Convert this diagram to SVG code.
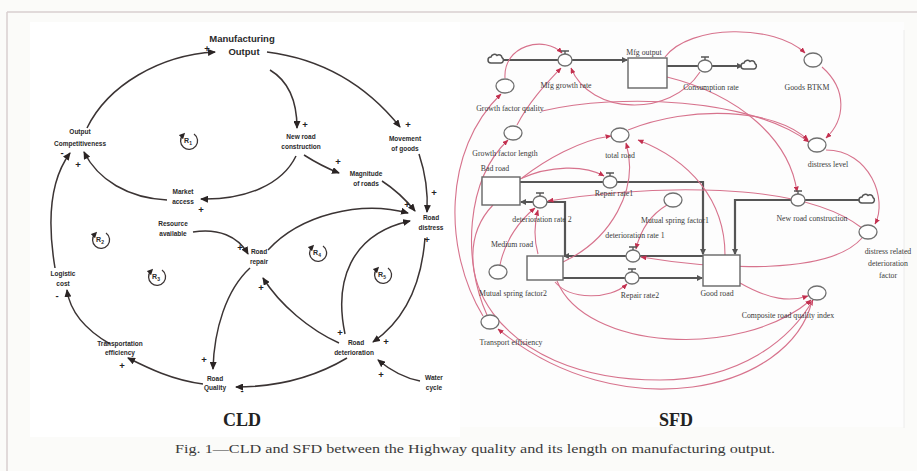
<svg xmlns="http://www.w3.org/2000/svg" width="917" height="471" viewBox="0 0 917 471">
<defs>
<style>
.cl{fill:none;stroke:#3b3434;stroke-width:1.5}
.lb{font-family:"Liberation Sans",Arial,sans-serif;font-weight:bold;font-size:6.5px;fill:#2a2a2a;text-anchor:middle}
.sg{font-family:"Liberation Sans",Arial,sans-serif;font-weight:bold;font-size:9.5px;fill:#222;text-anchor:middle}
.lp{fill:none;stroke:#3b3434;stroke-width:1.3}
.lt{font-family:"Liberation Sans",Arial,sans-serif;font-weight:bold;font-size:7px;fill:#2a2a2a;text-anchor:middle}
.pk{fill:none;stroke:#d7738d;stroke-width:1.1}
.pipe{fill:none;stroke:#555;stroke-width:2.2}
.stk{fill:#fff;stroke:#666;stroke-width:1.4}
.aux{fill:#fff;stroke:#6f6f6f;stroke-width:1.3}
.sl{font-family:"Liberation Serif","Times New Roman",serif;font-size:7.8px;fill:#3a3a3a;text-anchor:middle}
.ttl{font-family:"Liberation Serif","Times New Roman",serif;font-weight:bold;font-size:18px;fill:#222;text-anchor:middle}
.cap{font-family:"Liberation Serif","Times New Roman",serif;font-size:13px;fill:#3a3a3a;text-anchor:middle}
</style>
<marker id="ca" markerUnits="userSpaceOnUse" markerWidth="8" markerHeight="7" refX="7" refY="3.5" orient="auto"><path d="M0,0 L8,3.5 L0,7 z" fill="#2a2424"/></marker>
<marker id="la" markerUnits="userSpaceOnUse" markerWidth="6" markerHeight="6" refX="3" refY="3" orient="auto-start-reverse"><path d="M0,0 L6,3 L0,6 z" fill="#2a2424"/></marker>
<marker id="pa" markerUnits="userSpaceOnUse" markerWidth="6" markerHeight="5" refX="5.5" refY="2.5" orient="auto"><path d="M0,0 L6,2.5 L0,5 z" fill="#c3304f"/></marker>
<marker id="fa" markerUnits="userSpaceOnUse" markerWidth="6" markerHeight="6" refX="5" refY="3" orient="auto"><path d="M0,0 L6,3 L0,6 z" fill="#555"/></marker>
<path id="cloud" d="M -6 3 a3 3 0 0 1 0 -6 a3.5 3.5 0 0 1 6 -1.5 a3 3 0 0 1 5 2 a3 3 0 0 1 -1 5.5 z" fill="#fff" stroke="#555" stroke-width="1.5"/>
</defs>

<rect width="917" height="471" fill="#fbfbf9"/>
<rect x="30" y="22" width="430" height="415" fill="#ffffff"/>
<rect x="460" y="22" width="444" height="405" fill="#fdfdfd"/>
<line x1="7" y1="12" x2="917" y2="12" stroke="#d9cfcf" stroke-width="1.5"/>
<line x1="7" y1="12" x2="7" y2="471" stroke="#d9cfcf" stroke-width="1.5"/>
<line x1="904" y1="30" x2="904" y2="428" stroke="#ececec" stroke-width="1"/>

<!-- ================= CLD ================= -->
<g id="cld-connectors">
<path class="cl" marker-end="url(#ca)" d="M 87 128 C 108 85, 160 55, 215 52"/>
<path class="cl" marker-end="url(#ca)" d="M 267 52 C 330 60, 372 92, 400 127"/>
<path class="cl" marker-end="url(#ca)" d="M 270 70 C 290 82, 297 102, 297 128"/>
<path class="cl" marker-end="url(#ca)" d="M 296 156 C 282 185, 245 200, 201 199"/>
<path class="cl" marker-end="url(#ca)" d="M 167 200 C 128 198, 98 180, 84 152"/>
<path class="cl" marker-end="url(#ca)" d="M 304 155 C 315 162, 326 168, 339 173"/>
<path class="cl" marker-end="url(#ca)" d="M 382 181 C 396 190, 406 200, 415 211"/>
<path class="cl" marker-end="url(#ca)" d="M 419 154 C 426 175, 428 195, 427 212"/>
<path class="cl" marker-end="url(#ca)" d="M 268 250 C 300 215, 360 200, 408 213"/>
<path class="cl" marker-end="url(#ca)" d="M 345 334 C 334 282, 350 234, 410 221"/>
<path class="cl" marker-end="url(#ca)" d="M 425 238 C 421 290, 402 322, 373 342"/>
<path class="cl" marker-end="url(#ca)" d="M 339 343 C 310 330, 280 305, 263 278"/>
<path class="cl" marker-end="url(#ca)" d="M 250 268 C 226 290, 214 330, 213 369"/>
<path class="cl" marker-end="url(#ca)" d="M 347 358 C 310 380, 272 387, 236 387"/>
<path class="cl" marker-end="url(#ca)" d="M 203 384 C 172 380, 148 368, 128 358"/>
<path class="cl" marker-end="url(#ca)" d="M 110 344 C 86 330, 70 312, 67 290"/>
<path class="cl" marker-end="url(#ca)" d="M 55 268 C 47 220, 50 180, 70 153"/>
<path class="cl" marker-end="url(#ca)" d="M 193 232 C 218 228, 238 236, 248 254"/>
<path class="cl" marker-end="url(#ca)" d="M 420 381 C 404 378, 390 370, 378 360"/>
</g>

<g id="cld-signs">
<text class="sg" x="207" y="52">+</text>
<text class="sg" x="408" y="128">+</text>
<text class="sg" x="305" y="128">+</text>
<text class="sg" x="201" y="213">+</text>
<text class="sg" x="78" y="168">+</text>
<text class="sg" x="62" y="156">-</text>
<text class="sg" x="338" y="165">+</text>
<text class="sg" x="434" y="196">+</text>
<text class="sg" x="407" y="208">+</text>
<text class="sg" x="427" y="243">+</text>
<text class="sg" x="240" y="251">+</text>
<text class="sg" x="261" y="291">+</text>
<text class="sg" x="340" y="336">+</text>
<text class="sg" x="386" y="345">+</text>
<text class="sg" x="204" y="363">+</text>
<text class="sg" x="242" y="394">-</text>
<text class="sg" x="122" y="369">+</text>
<text class="sg" x="57" y="299">-</text>
<text class="sg" x="381" y="378">+</text>
</g>

<g id="cld-manufacturing-output"><text class="lb" style="font-size:9.5px" x="242" y="42">Manufacturing</text><text class="lb" style="font-size:9.5px" x="244" y="55">Output</text></g>
<g id="cld-output-competitiveness"><text class="lb" x="80" y="134">Output</text><text class="lb" x="80" y="146">Competitiveness</text></g>
<g id="cld-new-road-construction"><text class="lb" x="301" y="139">New road</text><text class="lb" x="301" y="149">construction</text></g>
<g id="cld-movement-of-goods"><text class="lb" x="405" y="141">Movement</text><text class="lb" x="405" y="151">of goods</text></g>
<g id="cld-magnitude-of-roads"><text class="lb" x="366" y="176">Magnitude</text><text class="lb" x="366" y="186">of roads</text></g>
<g id="cld-market-access"><text class="lb" x="183" y="194">Market</text><text class="lb" x="183" y="204">access</text></g>
<g id="cld-road-distress"><text class="lb" x="431" y="220">Road</text><text class="lb" x="431" y="230">distress</text></g>
<g id="cld-resource-available"><text class="lb" x="173" y="226">Resource</text><text class="lb" x="173" y="236">available</text></g>
<g id="cld-road-repair"><text class="lb" x="259" y="254">Road</text><text class="lb" x="259" y="264">repair</text></g>
<g id="cld-logistic-cost"><text class="lb" x="63" y="276">Logistic</text><text class="lb" x="63" y="286">cost</text></g>
<g id="cld-transportation-efficiency"><text class="lb" x="120" y="346">Transportation</text><text class="lb" x="120" y="355">efficiency</text></g>
<g id="cld-road-quality"><text class="lb" x="215" y="381">Road</text><text class="lb" x="215" y="390">Quality</text></g>
<g id="cld-road-deterioration"><text class="lb" x="356" y="345">Road</text><text class="lb" x="354" y="355">deterioration</text></g>
<g id="cld-water-cycle"><text class="lb" x="434" y="380">Water</text><text class="lb" x="434" y="390">cycle</text></g>

<g id="loop-R1" transform="translate(189,141)"><path class="lp" marker-start="url(#la)" d="M -6 -6 A 8.5 8.5 0 1 0 5 -7"/><text class="lt" x="-1" y="2">R<tspan font-size="5" dy="2">1</tspan></text></g>
<g id="loop-R2" transform="translate(101,240)"><path class="lp" marker-start="url(#la)" d="M -6 -6 A 8.5 8.5 0 1 0 5 -7"/><text class="lt" x="-1" y="2">R<tspan font-size="5" dy="2">2</tspan></text></g>
<g id="loop-R3" transform="translate(157,277)"><path class="lp" marker-start="url(#la)" d="M -6 -6 A 8.5 8.5 0 1 0 5 -7"/><text class="lt" x="-1" y="2">R<tspan font-size="5" dy="2">3</tspan></text></g>
<g id="loop-R4" transform="translate(318,253)"><path class="lp" marker-start="url(#la)" d="M -6 -6 A 8.5 8.5 0 1 0 5 -7"/><text class="lt" x="-1" y="2">R<tspan font-size="5" dy="2">4</tspan></text></g>
<g id="loop-R5" transform="translate(383,275)"><path class="lp" marker-start="url(#la)" d="M -6 -6 A 8.5 8.5 0 1 0 5 -7"/><text class="lt" x="-1" y="2">R<tspan font-size="5" dy="2">5</tspan></text></g>

<text class="ttl" x="242" y="426">CLD</text>

<!-- ================= SFD ================= -->
<g id="sfd-pipes">
<path class="pipe" marker-end="url(#fa)" d="M 504 60 L 627 60"/>
<path class="pipe" marker-end="url(#fa)" d="M 667 66 L 742 66"/>
<path class="pipe" marker-end="url(#fa)" d="M 520 182 L 703 182 L 703 254"/>
<path class="pipe" marker-end="url(#fa)" d="M 565 256 L 565 202 L 521 202"/>
<path class="pipe" marker-end="url(#fa)" d="M 703 256 L 564 256"/>
<path class="pipe" marker-end="url(#fa)" d="M 563 278 L 702 278"/>
<path class="pipe" marker-end="url(#fa)" d="M 862 200 L 735 200 L 735 254"/>
</g>

<g id="sfd-connectors">
<path class="pk" marker-end="url(#pa)" d="M 505 78 C 503 45, 545 35, 562 53"/>
<path class="pk" marker-end="url(#pa)" d="M 517 125 C 530 100, 548 82, 561 68"/>
<path class="pk" marker-end="url(#pa)" d="M 700 72 C 670 118, 590 115, 571 68"/>
<path class="pk" marker-end="url(#pa)" d="M 665 57 C 690 24, 775 24, 805 53"/>
<path class="pk" marker-end="url(#pa)" d="M 822 67 C 848 90, 845 120, 826 138"/>
<path class="pk" marker-end="url(#pa)" d="M 667 77 C 740 95, 790 140, 797 192"/>
<path class="pk" marker-end="url(#pa)" d="M 628 130 C 690 105, 775 108, 808 140"/>
<path class="pk" marker-end="url(#pa)" d="M 542 111 C 620 93, 750 98, 809 142"/>
<path class="pk" marker-end="url(#pa)" d="M 522 178 C 545 160, 580 140, 611 136"/>
<path class="pk" marker-end="url(#pa)" d="M 563 262 C 610 240, 640 190, 626 143"/>
<path class="pk" marker-end="url(#pa)" d="M 725 255 C 725 200, 690 160, 638 140"/>
<path class="pk" marker-end="url(#pa)" d="M 826 150 C 870 150, 888 200, 875 224"/>
<path class="pk" marker-end="url(#pa)" d="M 862 228 C 800 180, 650 185, 548 201"/>
<path class="pk" marker-end="url(#pa)" d="M 862 238 C 830 275, 720 270, 641 257"/>
<path class="pk" marker-end="url(#pa)" d="M 667 205 C 650 215, 640 232, 636 249"/>
<path class="pk" marker-end="url(#pa)" d="M 500 265 C 505 240, 520 220, 535 208"/>
<path class="pk" marker-end="url(#pa)" d="M 538 254 C 534 240, 534 225, 538 210"/>
<path class="pk" marker-end="url(#pa)" d="M 555 282 C 570 300, 610 300, 627 284"/>
<path class="pk" marker-end="url(#pa)" d="M 740 283 C 770 300, 790 302, 808 296"/>
<path class="pk" marker-end="url(#pa)" d="M 557 281 C 585 350, 740 360, 811 300"/>
<path class="pk" marker-end="url(#pa)" d="M 493 205 C 440 260, 490 380, 660 380 C 740 380, 790 340, 813 300"/>
<path class="pk" marker-end="url(#pa)" d="M 812 301 C 790 392, 620 430, 498 329"/>
<path class="pk" marker-end="url(#pa)" d="M 483 316 C 443 250, 443 150, 501 94"/>
<path class="pk" marker-end="url(#pa)" d="M 487 315 C 462 260, 466 180, 508 140"/>
<path class="pk" marker-end="url(#pa)" d="M 520 179 C 550 165, 585 165, 604 176"/>
</g>

<g id="sfd-source-cloud"><use href="#cloud" x="497" y="60"/></g>
<g id="sfd-sink-cloud"><use href="#cloud" x="750" y="66"/></g>
<g id="sfd-newroad-cloud"><use href="#cloud" x="868" y="200"/></g>

<g id="sfd-mfg-output"><rect class="stk" x="628" y="58" width="39" height="30"/><text class="sl" x="644" y="55">Mfg output</text></g>
<g id="sfd-bad-road"><rect class="stk" x="482" y="177" width="38" height="28"/><text class="sl" x="495" y="171">Bad road</text></g>
<g id="sfd-medium-road"><rect class="stk" x="527" y="256" width="36" height="24"/><text class="sl" x="512" y="247">Medium road</text></g>
<g id="sfd-good-road"><rect class="stk" x="703" y="255" width="37" height="31"/><text class="sl" x="717" y="296">Good road</text></g>

<g id="sfd-mfg-growth-rate"><ellipse class="aux" cx="565" cy="60" rx="7" ry="6"/><path d="M 561 51 L 569 51 M 565 51 L 565 54" stroke="#555" stroke-width="1.3"/><text class="sl" x="566" y="88">Mfg growth rate</text></g>
<g id="sfd-consumption-rate"><ellipse class="aux" cx="705" cy="66" rx="7" ry="6"/><path d="M 701 57 L 709 57 M 705 57 L 705 60" stroke="#555" stroke-width="1.3"/><text class="sl" x="711" y="90">Consumption rate</text></g>
<g id="sfd-repair-rate1"><ellipse class="aux" cx="610" cy="182" rx="7" ry="6"/><path d="M 606 173 L 614 173 M 610 173 L 610 176" stroke="#555" stroke-width="1.3"/><text class="sl" x="614" y="196">Repair rate1</text></g>
<g id="sfd-deterioration-rate-2"><ellipse class="aux" cx="540" cy="202" rx="7" ry="6"/><path d="M 536 193 L 544 193 M 540 193 L 540 196" stroke="#555" stroke-width="1.3"/><text class="sl" x="542" y="222">deterioration rate 2</text></g>
<g id="sfd-deterioration-rate-1"><ellipse class="aux" cx="633" cy="256" rx="7" ry="6"/><path d="M 629 247 L 637 247 M 633 247 L 633 250" stroke="#555" stroke-width="1.3"/><text class="sl" x="635" y="238">deterioration rate 1</text></g>
<g id="sfd-repair-rate2"><ellipse class="aux" cx="632" cy="278" rx="7" ry="6"/><path d="M 628 269 L 636 269 M 632 269 L 632 272" stroke="#555" stroke-width="1.3"/><text class="sl" x="640" y="298">Repair rate2</text></g>
<g id="sfd-new-road-construction"><ellipse class="aux" cx="798" cy="200" rx="7" ry="6"/><path d="M 794 191 L 802 191 M 798 191 L 798 194" stroke="#555" stroke-width="1.3"/><text class="sl" x="812" y="221">New road construction</text></g>

<g id="sfd-goods-btkm"><ellipse class="aux" cx="813" cy="60" rx="9" ry="7"/><text class="sl" x="807" y="90">Goods BTKM</text></g>
<g id="sfd-growth-factor-quality"><ellipse class="aux" cx="505" cy="86" rx="9" ry="7"/><text class="sl" x="510" y="111">Growth factor quality</text></g>
<g id="sfd-growth-factor-length"><ellipse class="aux" cx="513" cy="133" rx="9" ry="7"/><text class="sl" x="505" y="156">Growth factor length</text></g>
<g id="sfd-total-road"><ellipse class="aux" cx="620" cy="135" rx="9" ry="7"/><text class="sl" x="620" y="158">total road</text></g>
<g id="sfd-distress-level"><ellipse class="aux" cx="817" cy="145" rx="9" ry="7"/><text class="sl" x="828" y="167">distress level</text></g>
<g id="sfd-mutual-spring-factor1"><ellipse class="aux" cx="673" cy="200" rx="9" ry="7"/><text class="sl" x="675" y="223">Mutual spring factor1</text></g>
<g id="sfd-mutual-spring-factor2"><ellipse class="aux" cx="498" cy="272" rx="9" ry="7"/><text class="sl" x="513" y="296">Mutual spring factor2</text></g>
<g id="sfd-distress-related-factor"><ellipse class="aux" cx="868" cy="232" rx="9" ry="7"/><text class="sl" x="888" y="254">distress related</text><text class="sl" x="888" y="266">deterioration</text><text class="sl" x="888" y="278">factor</text></g>
<g id="sfd-composite-index"><ellipse class="aux" cx="817" cy="293" rx="9" ry="7"/><text class="sl" x="788" y="318">Composite road quality index</text></g>
<g id="sfd-transport-efficiency"><ellipse class="aux" cx="490" cy="322" rx="9" ry="7"/><text class="sl" x="511" y="345">Transport efficiency</text></g>

<text class="ttl" x="676" y="426">SFD</text>

<text class="cap" x="475" y="453" textLength="600" lengthAdjust="spacingAndGlyphs">Fig. 1—CLD and SFD between the Highway quality and its length on manufacturing output.</text>
</svg>
